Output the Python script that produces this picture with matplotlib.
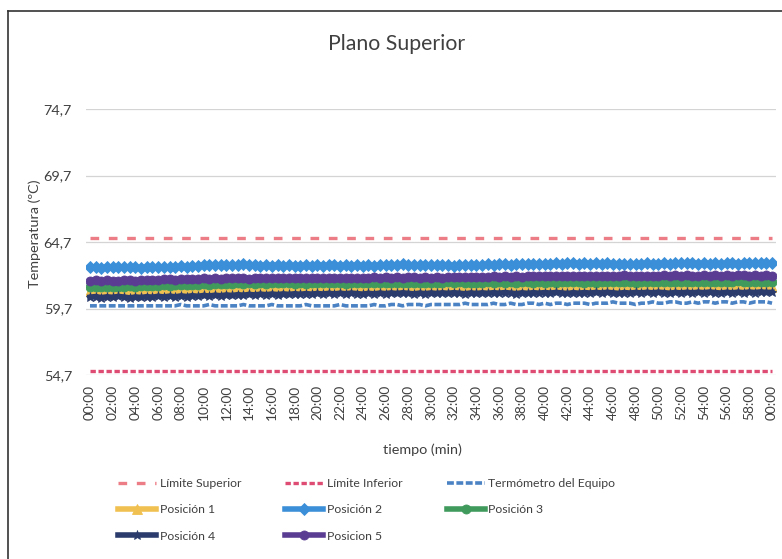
import matplotlib
matplotlib.use("Agg")
import matplotlib.pyplot as plt
from matplotlib import font_manager
from matplotlib.lines import Line2D
import numpy as np

# ---------------------------------------------------------------- data
tick_labels = ["00:00", "02:00", "04:00", "06:00", "08:00", "10:00", "12:00",
               "14:00", "16:00", "18:00", "20:00", "22:00", "24:00", "26:00",
               "28:00", "30:00", "32:00", "34:00", "36:00", "38:00", "40:00",
               "42:00", "44:00", "46:00", "48:00", "50:00", "52:00", "54:00",
               "56:00", "58:00", "00:00"]

limite_superior = 65.0
limite_inferior = 55.0

termometro = [
    59.9, 59.9, 59.9, 59.9, 59.9, 59.9, 59.9, 59.9, 59.9, 59.9,
    59.9, 59.9, 59.9, 59.9, 59.9, 59.9, 60.0, 59.9, 59.9, 59.9,
    59.9, 60.0, 59.9, 59.9, 59.9, 59.9, 59.9, 60.0, 59.9, 59.9,
    59.9, 59.9, 60.0, 59.9, 59.9, 59.9, 59.9, 59.9, 60.0, 59.9,
    59.9, 59.9, 59.9, 59.9, 60.0, 59.9, 59.9, 59.9, 59.9, 59.9,
    60.0, 59.9, 59.9, 60.0, 60.0, 59.9, 60.0, 60.0, 60.0, 59.9,
    60.0, 60.0, 60.0, 60.0, 60.0, 60.0, 60.1, 60.0, 60.0, 60.0,
    60.0, 60.1, 60.0, 60.0, 60.1, 60.0, 60.0, 60.1, 60.1, 60.0,
    60.1, 60.0, 60.1, 60.1, 60.0, 60.1, 60.1, 60.1, 60.0, 60.1,
    60.1, 60.1, 60.2, 60.1, 60.1, 60.1, 60.0, 60.1, 60.1, 60.2,
    60.1, 60.1, 60.2, 60.2, 60.1, 60.1, 60.2, 60.1, 60.2, 60.2,
    60.1, 60.2, 60.2, 60.1, 60.2, 60.2, 60.1, 60.2, 60.2, 60.2,
    60.1]

posicion_1 = [
    61.00, 61.03, 60.98, 61.02, 60.99, 61.04, 61.01, 60.97, 61.02, 61.05,
    61.01, 61.06, 61.03, 61.08, 61.04, 61.09, 61.06, 61.02, 61.07, 61.10,
    61.06, 61.11, 61.08, 61.04, 61.09, 61.12, 61.07, 61.10, 61.05, 61.09,
    61.06, 61.10, 61.07, 61.11, 61.08, 61.04, 61.09, 61.12, 61.08, 61.11,
    61.07, 61.10, 61.06, 61.11, 61.08, 61.13, 61.09, 61.12, 61.08, 61.11,
    61.14, 61.10, 61.13, 61.09, 61.14, 61.11, 61.15, 61.12, 61.16, 61.13,
    61.17, 61.14, 61.18, 61.15, 61.12, 61.17, 61.14, 61.19, 61.16, 61.20,
    61.17, 61.21, 61.18, 61.22, 61.19, 61.16, 61.21, 61.18, 61.23, 61.20,
    61.24, 61.21, 61.25, 61.22, 61.26, 61.23, 61.20, 61.25, 61.22, 61.26,
    61.23, 61.27, 61.24, 61.28, 61.25, 61.22, 61.27, 61.24, 61.28, 61.25,
    61.29, 61.26, 61.30, 61.27, 61.24, 61.29, 61.26, 61.31, 61.28, 61.32,
    61.29, 61.26, 61.31, 61.28, 61.33, 61.30, 61.27, 61.32, 61.29, 61.33,
    61.30]

posicion_2 = [
    62.80, 62.85, 62.78, 62.82, 62.80, 62.84, 62.79, 62.83, 62.80, 62.78,
    62.82, 62.80, 62.85, 62.81, 62.79, 62.83, 62.86, 62.82, 62.88, 62.92,
    62.95, 62.98, 62.94, 62.97, 63.00, 62.96, 62.99, 63.02, 62.97, 62.95,
    62.93, 62.96, 62.92, 62.95, 62.91, 62.94, 62.90, 62.93, 62.96, 62.92,
    62.95, 62.93, 62.97, 62.94, 62.92, 62.96, 62.93, 62.95, 62.91, 62.94,
    62.92, 62.96, 62.99, 62.95, 62.98, 63.01, 62.97, 63.00, 62.96, 62.99,
    62.95, 62.98, 62.94, 62.97, 62.93, 62.96, 62.94, 62.98, 62.95, 62.99,
    63.02, 62.98, 63.01, 63.04, 63.00, 63.03, 63.06, 63.02, 63.05, 63.08,
    63.04, 63.07, 63.10, 63.06, 63.09, 63.12, 63.08, 63.11, 63.07, 63.10,
    63.06, 63.09, 63.05, 63.08, 63.04, 63.07, 63.03, 63.06, 63.09, 63.05,
    63.08, 63.11, 63.07, 63.10, 63.13, 63.09, 63.12, 63.08, 63.11, 63.07,
    63.10, 63.06, 63.09, 63.12, 63.08, 63.11, 63.14, 63.10, 63.13, 63.09,
    63.12]

posicion_3 = [
    61.30, 61.32, 61.29, 61.33, 61.31, 61.35, 61.33, 61.37, 61.35, 61.39,
    61.37, 61.41, 61.39, 61.43, 61.41, 61.45, 61.43, 61.47, 61.45, 61.49,
    61.51, 61.49, 61.53, 61.55, 61.52, 61.56, 61.58, 61.55, 61.59, 61.57,
    61.60, 61.57, 61.61, 61.58, 61.62, 61.59, 61.56, 61.60, 61.57, 61.61,
    61.58, 61.62, 61.59, 61.63, 61.60, 61.57, 61.61, 61.58, 61.62, 61.59,
    61.63, 61.60, 61.64, 61.61, 61.65, 61.62, 61.59, 61.63, 61.60, 61.64,
    61.61, 61.65, 61.62, 61.66, 61.63, 61.67, 61.64, 61.61, 61.65, 61.62,
    61.66, 61.63, 61.67, 61.64, 61.68, 61.65, 61.69, 61.66, 61.63, 61.67,
    61.64, 61.68, 61.65, 61.69, 61.66, 61.70, 61.67, 61.64, 61.68, 61.65,
    61.69, 61.66, 61.70, 61.67, 61.71, 61.68, 61.65, 61.69, 61.66, 61.70,
    61.67, 61.71, 61.68, 61.72, 61.69, 61.73, 61.70, 61.67, 61.71, 61.68,
    61.72, 61.69, 61.73, 61.70, 61.74, 61.71, 61.68, 61.72, 61.69, 61.73,
    61.70]

posicion_4 = [
    60.55, 60.60, 60.52, 60.58, 60.54, 60.61, 60.56, 60.50, 60.57, 60.53,
    60.59, 60.55, 60.62, 60.57, 60.63, 60.58, 60.65, 60.60, 60.66, 60.62,
    60.68, 60.64, 60.70, 60.66, 60.72, 60.68, 60.74, 60.70, 60.76, 60.72,
    60.78, 60.74, 60.79, 60.75, 60.80, 60.76, 60.81, 60.77, 60.82, 60.78,
    60.83, 60.79, 60.84, 60.80, 60.85, 60.81, 60.86, 60.82, 60.78, 60.84,
    60.80, 60.86, 60.82, 60.87, 60.83, 60.88, 60.84, 60.80, 60.86, 60.82,
    60.87, 60.83, 60.88, 60.84, 60.89, 60.85, 60.81, 60.87, 60.83, 60.88,
    60.84, 60.89, 60.85, 60.90, 60.86, 60.82, 60.88, 60.84, 60.89, 60.85,
    60.90, 60.86, 60.91, 60.87, 60.83, 60.89, 60.85, 60.90, 60.86, 60.91,
    60.87, 60.92, 60.88, 60.84, 60.90, 60.86, 60.91, 60.87, 60.92, 60.88,
    60.93, 60.89, 60.85, 60.91, 60.87, 60.92, 60.88, 60.93, 60.89, 60.94,
    60.90, 60.86, 60.92, 60.88, 60.93, 60.89, 60.94, 60.90, 60.95, 60.91,
    60.92]

posicion_5 = [
    61.80, 61.83, 61.79, 61.82, 61.80, 61.78, 61.81, 61.84, 61.80, 61.83,
    61.86, 61.88, 61.85, 61.89, 61.92, 61.88, 61.91, 61.94, 61.90, 61.93,
    61.96, 61.93, 61.97, 61.95, 61.98, 62.00, 61.96, 61.99, 61.95, 61.98,
    61.96, 62.00, 61.97, 61.99, 62.02, 61.98, 62.01, 61.97, 62.00, 61.98,
    62.01, 61.98, 62.02, 61.99, 62.03, 62.00, 61.97, 62.01, 61.98, 62.02,
    62.04, 62.01, 62.05, 62.02, 62.06, 62.03, 62.07, 62.04, 62.01, 62.05,
    62.02, 62.06, 62.03, 62.07, 62.04, 62.08, 62.05, 62.09, 62.06, 62.10,
    62.07, 62.11, 62.08, 62.12, 62.09, 62.13, 62.10, 62.14, 62.11, 62.15,
    62.12, 62.16, 62.13, 62.17, 62.14, 62.18, 62.15, 62.12, 62.16, 62.13,
    62.17, 62.14, 62.18, 62.15, 62.19, 62.16, 62.13, 62.17, 62.14, 62.18,
    62.15, 62.19, 62.16, 62.20, 62.17, 62.21, 62.18, 62.15, 62.19, 62.16,
    62.20, 62.17, 62.21, 62.18, 62.22, 62.19, 62.16, 62.20, 62.17, 62.21,
    62.18]

y_ticks = [54.7, 59.7, 64.7, 69.7, 74.7]

# ---------------------------------------------------------------- fonts
available = {f.name for f in font_manager.fontManager.ttflist}
if "Liberation Sans Narrow" in available:
    base_font = "Liberation Sans Narrow"
    scale = 1.0
else:
    base_font = "Lato"
    scale = 0.9
plt.rcParams["font.family"] = [base_font, "DejaVu Sans"]

# ---------------------------------------------------------------- figure
W, H = 782, 559
fig = plt.figure(figsize=(W / 100, H / 100), dpi=100)
fig.patch.set_facecolor("white")

ax = fig.add_axes([86 / W, 1 - 375 / H, 690 / W, 266 / H])
ax.set_facecolor("white")

n = len(posicion_1)
x = np.arange(n)

grid_color = "#d4d4d4"
for t in y_ticks:
    ax.axhline(t, color=grid_color, lw=0.9, zorder=0)

# limits and reference thermometer
h_sup, = ax.plot([x[0], x[-1]], [limite_superior, limite_superior],
                 color="#ec7d86", lw=2.4, dashes=(2.6, 2.9),
                 label="Límite Superior", zorder=2)
h_inf, = ax.plot([x[0], x[-1]], [limite_inferior, limite_inferior],
                 color="#de4b73", lw=2.4, dashes=(1.6, 0.8),
                 label="Límite Inferior", zorder=2)
h_ter, = ax.plot(x, termometro, color="#4a82c4", lw=2.6, dashes=(1.9, 0.7),
                 label="Termómetro del Equipo", zorder=3)

# measuring positions
series = [
    (posicion_1, "#f0c150", "^", "Posición 1"),
    (posicion_2, "#3b8fd8", "D", "Posición 2"),
    (posicion_3, "#3f9a5c", "o", "Posición 3"),
    (posicion_4, "#2a3b6c", "*", "Posición 4"),
    (posicion_5, "#5a3d93", "o", "Posicion 5"),
]
pos_handles = []
for vals, col, mk, lab in series:
    h, = ax.plot(x, vals, color=col, lw=4.0, marker=mk, markersize=6.5,
                 markeredgewidth=0.6, markeredgecolor=col, label=lab,
                 zorder=4)
    pos_handles.append(h)

ax.set_xlim(-0.7, n - 1 + 0.7)
ax.set_ylim(54.7, 74.7)
ax.set_yticks(y_ticks)
ax.set_yticklabels([f"{v:.1f}".replace(".", ",") for v in y_ticks],
                   fontsize=11.5 * scale, color="#404040")
ax.set_xticks(x[::4])
ax.set_xticklabels(tick_labels, rotation=90, fontsize=11 * scale,
                   color="#404040")
ax.tick_params(axis="both", length=0)
ax.tick_params(axis="y", pad=10)
ax.tick_params(axis="x", pad=7)
for s in ax.spines.values():
    s.set_visible(False)

# titles
fig.text(397 / W, 1 - 44 / H, "Plano Superior", ha="center", va="center",
         fontsize=17 * scale, color="#404040")
fig.text(35 / W, 1 - 234 / H, "Temperatura (ºC)", rotation=90, ha="center",
         va="center", fontsize=11.5 * scale, color="#404040")
fig.text(422 / W, 1 - 450 / H, "tiempo (min)", ha="center", va="center",
         fontsize=11.5 * scale, color="#404040")

# legend: rows read left to right, matplotlib fills column by column
p1, p2, p3, p4, p5 = pos_handles
order = [h_sup, p1, p4, h_inf, p2, p5, h_ter, p3]
leg = fig.legend(order, [h.get_label() for h in order], ncol=3,
                 loc="upper left", bbox_to_anchor=(118 / W, 1 - 478 / H),
                 frameon=False, borderpad=0, borderaxespad=0,
                 handlelength=3.1, handletextpad=0.3, columnspacing=3.6,
                 labelspacing=1.25, numpoints=1, fontsize=9.8 * scale)
for t in leg.get_texts():
    t.set_color("#404040")

# chart border
fig.add_artist(Line2D([8 / W, 8 / W], [0, 1 - 11 / H], transform=fig.transFigure,
                      color="#333333", lw=1.2))
fig.add_artist(Line2D([8 / W, 1], [1 - 11 / H, 1 - 11 / H],
                      transform=fig.transFigure, color="#333333", lw=1.2))

fig.savefig("out.png", dpi=100)
